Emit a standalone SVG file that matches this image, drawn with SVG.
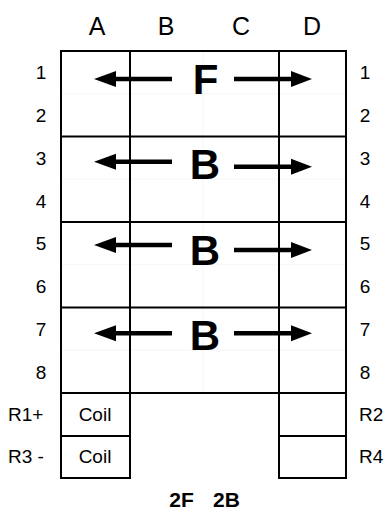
<svg xmlns="http://www.w3.org/2000/svg" width="387" height="512" viewBox="0 0 387 512">
<style>
.g{stroke:#000;stroke-width:2;fill:none}
.f{stroke:#eeeeee;stroke-width:0.6;fill:none}
.lab{font-family:"Liberation Sans",Arial,sans-serif;fill:#000}
.col{font-size:25px;text-anchor:middle}
.row{font-size:19px;text-anchor:middle}
.big{font-size:42px;font-weight:bold;text-anchor:middle}
.coil{font-size:19px;text-anchor:middle}
.rl{font-size:19px}
.cap{font-size:21px;font-weight:bold;text-anchor:middle}
.sh{stroke:#000;stroke-width:4.5}
</style>
<defs>
<g id="la"><line class="sh" x1="114" y1="0" x2="172" y2="0"/><polygon points="94,0 116,-8 116,8" fill="#000"/></g>
<g id="ra"><line class="sh" x1="234" y1="0" x2="293" y2="0"/><polygon points="312,0 291,-8 291,8" fill="#000"/></g>
</defs>
<rect width="387" height="512" fill="#fff"/>
<g id="faint">
<line class="f" x1="203" y1="51" x2="203" y2="393"/>
<line class="f" x1="61" y1="93.75" x2="346" y2="93.75"/>
<line class="f" x1="61" y1="179.25" x2="346" y2="179.25"/>
<line class="f" x1="61" y1="264.75" x2="346" y2="264.75"/>
<line class="f" x1="61" y1="350.25" x2="346" y2="350.25"/>
</g>
<g id="grid">
<line class="g" x1="61" y1="51" x2="61" y2="478"/>
<line class="g" x1="130" y1="51" x2="130" y2="478"/>
<line class="g" x1="279" y1="51" x2="279" y2="478"/>
<line class="g" x1="346" y1="51" x2="346" y2="478"/>
<line class="g" x1="60" y1="51" x2="347" y2="51"/>
<line class="g" x1="60" y1="136.5" x2="347" y2="136.5"/>
<line class="g" x1="60" y1="222" x2="347" y2="222"/>
<line class="g" x1="60" y1="307.5" x2="347" y2="307.5"/>
<line class="g" x1="60" y1="393" x2="347" y2="393"/>
<line class="g" x1="60" y1="436" x2="131" y2="436"/>
<line class="g" x1="60" y1="478" x2="131" y2="478"/>
<line class="g" x1="278" y1="436" x2="347" y2="436"/>
<line class="g" x1="278" y1="478" x2="347" y2="478"/>
</g>
<g id="columns">
<text class="lab col" x="97" y="35">A</text>
<text class="lab col" x="166" y="35">B</text>
<text class="lab col" x="241" y="35">C</text>
<text class="lab col" x="312" y="35">D</text>
</g>
<g id="rows-left">
<text class="lab row" x="41" y="79">1</text>
<text class="lab row" x="41" y="122">2</text>
<text class="lab row" x="41" y="165">3</text>
<text class="lab row" x="41" y="207.5">4</text>
<text class="lab row" x="41" y="250">5</text>
<text class="lab row" x="41" y="293">6</text>
<text class="lab row" x="41" y="336">7</text>
<text class="lab row" x="41" y="378.5">8</text>
<text class="lab rl" x="8" y="421">R1+</text>
<text class="lab rl" x="8" y="463">R3 -</text>
</g>
<g id="rows-right">
<text class="lab row" x="365" y="79">1</text>
<text class="lab row" x="365" y="122">2</text>
<text class="lab row" x="365" y="165">3</text>
<text class="lab row" x="365" y="207.5">4</text>
<text class="lab row" x="365" y="250">5</text>
<text class="lab row" x="365" y="293">6</text>
<text class="lab row" x="365" y="336">7</text>
<text class="lab row" x="365" y="378.5">8</text>
<text class="lab rl" x="359" y="421">R2</text>
<text class="lab rl" x="359" y="463">R4</text>
</g>
<g id="block1">
<text class="lab big" x="205.5" y="94">F</text>
</g>
<g id="block2">
<text class="lab big" x="205" y="179">B</text>
</g>
<g id="block3">
<text class="lab big" x="205" y="264.5">B</text>
</g>
<g id="block4">
<text class="lab big" x="205" y="350">B</text>
</g>
<g id="coil1"><text class="lab coil" x="95" y="421">Coil</text></g>
<g id="coil2"><text class="lab coil" x="95" y="463">Coil</text></g>
<g id="connectors">
<use href="#la" y="79"/><use href="#ra" y="79"/>
<use href="#la" y="161.7"/><use href="#ra" y="166.7"/>
<use href="#la" y="245"/><use href="#ra" y="250"/>
<use href="#la" y="333.3"/><use href="#ra" y="333.3"/>
</g>
<g id="caption">
<text class="lab cap" x="181.5" y="507">2F</text>
<text class="lab cap" x="226.5" y="507">2B</text>
</g>
</svg>
